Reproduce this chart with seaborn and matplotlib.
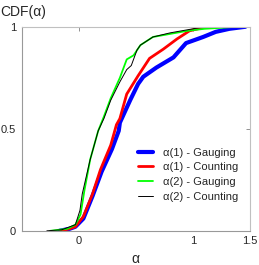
import numpy as np
import pandas as pd
import seaborn as sns
import matplotlib
matplotlib.use("Agg")
import matplotlib.pyplot as plt

# values (alpha, CDF) pairs
a1_gauging = [-0.17, -0.08, -0.03, 0.04, 0.12, 0.20, 0.29, 0.35, 0.36, 0.45, 0.52, 0.565, 0.68, 0.83, 0.94, 1.09, 1.20, 1.32, 1.46]
F1_gauging = [0.0, 0.01, 0.02, 0.06, 0.17, 0.29, 0.40, 0.49, 0.53, 0.64, 0.72, 0.755, 0.80, 0.85, 0.92, 0.95, 0.975, 0.99, 1.0]

a1_counting = [-0.16, -0.08, -0.03, 0.04, 0.12, 0.19, 0.28, 0.33, 0.36, 0.42, 0.52, 0.62, 0.74, 0.86, 0.97, 1.08, 1.17]
F1_counting = [0.0, 0.01, 0.02, 0.07, 0.18, 0.30, 0.42, 0.52, 0.55, 0.67, 0.76, 0.845, 0.89, 0.94, 0.98, 0.995, 1.0]

a2_gauging = [-0.25, -0.10, -0.03, 0.015, 0.05, 0.10, 0.17, 0.22, 0.28, 0.36, 0.42, 0.48, 0.54, 0.65, 0.80, 0.95, 1.10, 1.25, 1.38]
F2_gauging = [0.0, 0.01, 0.03, 0.08, 0.20, 0.35, 0.49, 0.56, 0.65, 0.75, 0.84, 0.86, 0.91, 0.95, 0.965, 0.98, 0.99, 0.995, 1.0]

a2_counting = [-0.28, -0.15, -0.03, 0.01, 0.03, 0.10, 0.17, 0.22, 0.28, 0.36, 0.42, 0.46, 0.51, 0.54, 0.65, 0.80, 0.95, 1.05, 1.12]
F2_counting = [0.0, 0.005, 0.03, 0.10, 0.18, 0.35, 0.49, 0.55, 0.64, 0.73, 0.79, 0.81, 0.886, 0.91, 0.95, 0.97, 0.985, 0.995, 1.0]

series = [
    ("α(1) - Gauging", a1_gauging, F1_gauging, "#0000ff", 3.0),
    ("α(1) - Counting", a1_counting, F1_counting, "#ff0000", 2.0),
    ("α(2) - Gauging", a2_gauging, F2_gauging, "#00ff00", 1.3),
    ("α(2) - Counting", a2_counting, F2_counting, "#000000", 0.7),
]

sns.set_style("white")
plt.rcParams["font.family"] = ["Liberation Sans", "DejaVu Sans"]

fig = plt.figure(figsize=(2.59, 2.65), dpi=100)
ax = fig.add_axes([0.084, 0.129, 0.881, 0.770])

for label, a, F, color, lw in series:
    df = pd.DataFrame({"alpha": a, "cdf": F})
    sns.lineplot(data=df, x="alpha", y="cdf", ax=ax, color=color, linewidth=lw,
                 label=label, sort=False, estimator=None)

ax.set_xlim(-0.5, 1.5)
ax.set_ylim(0, 1)
ax.set_xticks([0, 1, 1.5])
ax.set_xticklabels(["0", "1", "1.5"])
ax.set_yticks([0, 0.5, 1])
ax.set_yticklabels(["0", "0.5", "1"])
ax.tick_params(direction="in", length=3, width=0.6, color="#808080",
               labelsize=8, top=True, right=True, pad=4)
for s in ax.spines.values():
    s.set_color("#999999")
    s.set_linewidth(0.8)
ax.spines["top"].set_color("#c0c0c0")
ax.spines["right"].set_color("#c0c0c0")

ax.set_xlabel("α", fontsize=10, labelpad=4)
ax.set_ylabel("")
fig.text(0.0, 0.955, "CDF(α)", fontsize=10, va="center", ha="left")

ax.legend(loc="center left", bbox_to_anchor=(0.51, 0.275), frameon=False,
          fontsize=8, handlelength=1.3, handletextpad=0.9, labelspacing=0.42,
          borderpad=0, borderaxespad=0)

fig.savefig("out.png", dpi=100)
